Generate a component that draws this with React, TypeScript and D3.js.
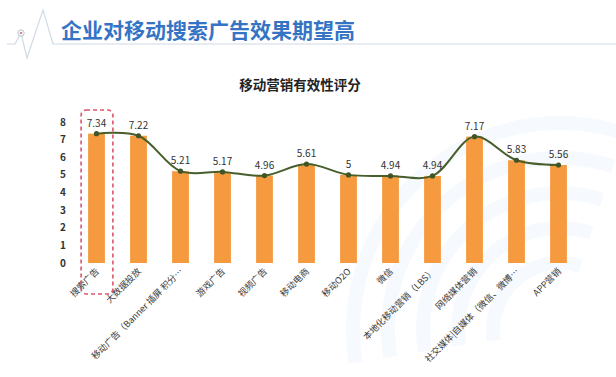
import React from "react";
import * as d3 from "d3";

const categories = [
  "搜索广告",
  "大数据投放",
  "移动广告（Banner 插屏 积分…",
  "游戏广告",
  "视频广告",
  "移动电商",
  "移动O2O",
  "微信",
  "本地化移动营销（LBS）",
  "网络媒体营销",
  "社交媒体|自媒体（微信、微博…",
  "APP营销",
];
const scores = [7.34, 7.22, 5.21, 5.17, 4.96, 5.61, 5, 4.94, 4.94, 7.17, 5.83, 5.56];
const scoreLabels = ["7.34", "7.22", "5.21", "5.17", "4.96", "5.61", "5", "4.94", "4.94", "7.17", "5.83", "5.56"];
const yTicks = [0, 1, 2, 3, 4, 5, 6, 7, 8];

const W = 616;
const H = 377;
const FONT = "'Noto Sans CJK SC', 'Noto Sans', sans-serif";

export default function App() {
  const x = d3.scaleBand<string>().domain(categories).range([75.5, 579.5]).paddingInner(0.6).paddingOuter(0.3);
  const y = d3.scaleLinear().domain([0, 8]).range([263, 122]);
  const cx = (c: string) => (x(c) ?? 0) + x.bandwidth() / 2;

  const line = d3
    .line<number>()
    .x((_, i) => cx(categories[i]))
    .y((d) => y(d))
    .curve(d3.curveCatmullRom.alpha(0.5));

  const pulse = d3.line()([
    [7, 44], [15, 44], [21, 33], [27, 58], [43, 10], [53, 44], [616, 44],
  ]);

  const first = categories[0];
  const bx0 = (x(first) ?? 0) - 7;
  const bx1 = (x(first) ?? 0) + x.bandwidth() + 8;

  return (
    <svg width={W} height={H} style={{ position: "fixed", left: 0, top: 0, background: "#fff" }} fontFamily={FONT}>
      {/* faint background swirls */}
      <g>
        {[60, 95, 130, 165, 200].map((r, i) => (
          <path
            key={i}
            d={d3.arc()({ innerRadius: r, outerRadius: r + 14, startAngle: -Math.PI * 0.55, endAngle: Math.PI * 0.1 }) ?? ""}
            transform="translate(560,330)"
            fill="#f6f9fd"
          />
        ))}
      </g>
      {/* header */}
      <path d={pulse ?? ""} fill="none" stroke="#d0dae6" strokeWidth={1.2} />
      <circle cx={21} cy={33} r={3.2} fill="#fff" stroke="#b9c4d0" strokeWidth={1} />
      <circle cx={21} cy={33} r={1.3} fill="#c98a96" />
      <text x={61} y={38} fontSize={21} fontWeight={700} fill="#3574c4">
        企业对移动搜索广告效果期望高
      </text>

      <text x={300} y={90} textAnchor="middle" fontSize={13.5} fontWeight={700} fill="#222">
        移动营销有效性评分
      </text>

      {/* y axis labels */}
      {yTicks.map((t) => (
        <text key={t} x={63} y={y(t)} dy="0.35em" textAnchor="middle" fontSize={10} fontWeight={600} fill="#333">
          {t}
        </text>
      ))}

      {/* bars */}
      {categories.map((c, i) => (
        <rect key={c} x={x(c)} y={y(scores[i])} width={x.bandwidth()} height={y(0) - y(scores[i])} fill="#f59a3f" />
      ))}

      {/* smooth line */}
      <path d={line(scores) ?? ""} fill="none" stroke="#485f2c" strokeWidth={2} />
      {categories.map((c, i) => (
        <circle key={c} cx={cx(c)} cy={y(scores[i])} r={2.6} fill="#3f5526" />
      ))}

      {/* value labels */}
      {categories.map((c, i) => (
        <text key={c} x={cx(c)} y={y(scores[i]) - 7} textAnchor="middle" fontSize={10} fill="#333">
          {scoreLabels[i]}
        </text>
      ))}

      {/* category labels */}
      {categories.map((c) => (
        <text
          key={c}
          transform={`translate(${cx(c) + 3},${272}) rotate(-45)`}
          textAnchor="end"
          fontSize={9}
          fill="#3a3a3a"
        >
          {c}
        </text>
      ))}

      {/* highlight box */}
      <rect x={bx0} y={110} width={bx1 - bx0} height={184} rx={5} fill="none" stroke="#d9576a" strokeWidth={1.6} strokeDasharray="4,3" />
    </svg>
  );
}
